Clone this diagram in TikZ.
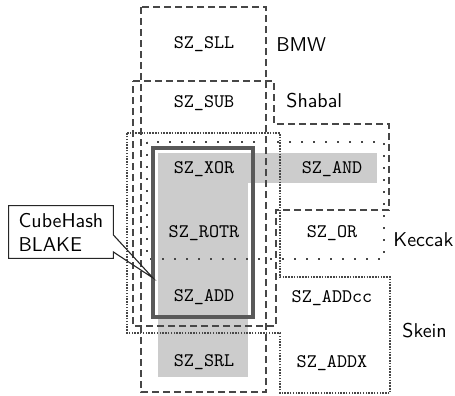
\documentclass[tikz,border=0pt]{standalone}
\usetikzlibrary{calc}
\begin{document}
\begin{tikzpicture}[x=0.5pt,y=-0.5pt,
  szdash/.style={draw=black!72, line width=1pt, dash pattern=on 3.3pt off 2.2pt},
  szdense/.style={draw=black!72, line width=0.95pt, dash pattern=on 0.75pt off 0.65pt},
  szsparse/.style={draw=black!72, line width=1.1pt, dash pattern=on 1.1pt off 4.9pt},
  szsolid/.style={draw=black!65, line width=1.6pt},
  shadecol/.style={fill=black!20},
  op/.style={font=\fontsize{9.6}{11}\selectfont\ttfamily, inner sep=0pt},
  lbl/.style={font=\sffamily, anchor=west, inner sep=0pt},
  callbox/.style={font=\sffamily, align=left, minimum width=52pt, minimum height=26pt, inner sep=0pt},
  callline/.style={draw=black!85, line width=0.55pt}]
\useasboundingbox (0,0) rectangle (455,396);
% gray fills
\fill[shadecol] (158,153) rectangle (248,377);
\fill[shadecol] (158,153) rectangle (377,183);
% BMW
\draw[szdash] (141,7) rectangle (266,392);
% Shabal
\draw[szdash] (133,81) -- (274,81) -- (274,124) -- (389,124) -- (389,210) -- (276,210) -- (276,326) -- (133,326) -- cycle;
% Skein
\draw[szdense] (127,133) -- (280,133) -- (280,277) -- (390,277) -- (390,393) -- (280,393) -- (280,333) -- (127,333) -- cycle;
% Keccak
\draw[szsparse] (147,142) rectangle (384,259);
% CubeHash / BLAKE
\draw[szsolid] (153,148) rectangle (253,317);
% operations
\node[op] (sll) at (204,44) {SZ\_SLL};
\node[op] (sub) at (204,103) {SZ\_SUB};
\node[op] (xor) at (204,169) {SZ\_XOR};
\node[op] (and) at (332,169) {SZ\_AND};
\node[op] (rotr) at (204,233) {SZ\_ROTR};
\node[op] (or) at (332,233) {SZ\_OR};
\node[op] (add) at (204,297) {SZ\_ADD};
\node[op] (addcc) at (332,298) {SZ\_ADDcc};
\node[op] (srl) at (204,362) {SZ\_SRL};
\node[op] (addx) at (332,363) {SZ\_ADDX};
% labels
\node[lbl] (bmw) at (276,45) {BMW};
\node[lbl] (shabal) at (286,101) {Shabal};
\node[lbl] (keccak) at (393,240) {Keccak};
\node[lbl] (skein) at (402,331) {Skein};
% callout
\coordinate (tip) at (153,278);
\node[callbox] (cb) at (61,232) {CubeHash\\BLAKE};
\draw[callline] (cb.north west) -- (cb.north east) -- ($(cb.east)+(0,3)$) -- (tip) -- ($(cb.east)+(0,20)$) -- (cb.south east) -- (cb.south west) -- cycle;
\end{tikzpicture}
\end{document}
